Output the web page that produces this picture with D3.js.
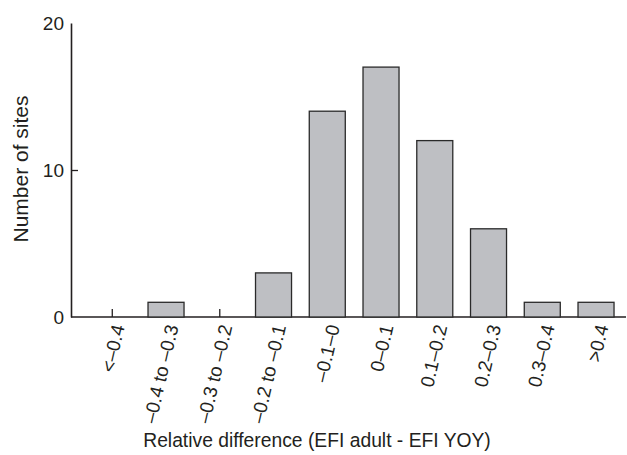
<!DOCTYPE html>
<html>
<head>
<meta charset="utf-8">
<script src="https://cdn.jsdelivr.net/npm/d3@7"></script>
<style>
  html, body { margin: 0; padding: 0; background: #fff; }
  svg { display: block; }
  text { font-family: "Liberation Sans", Arial, sans-serif; fill: #231f20; }
</style>
</head>
<body>
<svg id="chart" width="627" height="455"></svg>
<script>
// Histogram bins and counts of sites
const categories = ["<–0.4", "–0.4 to –0.3", "–0.3 to –0.2", "–0.2 to –0.1", "–0.1–0",
                    "0–0.1", "0.1–0.2", "0.2–0.3", "0.3–0.4", ">0.4"];
const counts = [0, 1, 0, 3, 14, 17, 12, 6, 1, 1];
const yTicks = [0, 10, 20];
const xTitle = "Relative difference (EFI adult - EFI YOY)";
const yTitle = "Number of sites";

const svg = d3.select("#chart");
const ink = "#231f20";

const axisLeft = 71, axisRight = 626, yBottom = 317, yTop = 23;

const x = d3.scaleBand()
  .domain(categories)
  .range([85.4, 622.9])
  .paddingInner(0.33)
  .paddingOuter(0.165);

const y = d3.scaleLinear().domain([0, 20]).range([yBottom, yTop]);

// x-axis line with small inward ticks at bin centres
svg.append("line")
  .attr("x1", axisLeft).attr("x2", axisRight)
  .attr("y1", yBottom).attr("y2", yBottom)
  .attr("stroke", ink).attr("stroke-width", 1.6);

svg.append("g").selectAll("line")
  .data(categories)
  .join("line")
  .attr("x1", d => x(d) + x.bandwidth() / 2)
  .attr("x2", d => x(d) + x.bandwidth() / 2)
  .attr("y1", yBottom).attr("y2", yBottom - 8)
  .attr("stroke", ink).attr("stroke-width", 1.3);

// bars
svg.append("g").selectAll("rect")
  .data(categories.map((c, i) => ({ c, v: counts[i] })).filter(d => d.v > 0))
  .join("rect")
  .attr("x", d => x(d.c))
  .attr("width", x.bandwidth())
  .attr("y", d => y(d.v))
  .attr("height", d => y(0) - y(d.v))
  .attr("fill", "#bebfc3")
  .attr("stroke", "#2a2a2a")
  .attr("stroke-width", 1.3);

// y axis
const yAxis = d3.axisLeft(y)
  .tickValues(yTicks)
  .tickSizeInner(-7)
  .tickSizeOuter(0)
  .tickPadding(7);

const gy = svg.append("g")
  .attr("transform", `translate(${axisLeft},0)`)
  .call(yAxis);
gy.select(".domain").attr("stroke", ink).attr("stroke-width", 1.6);
gy.selectAll(".tick line").attr("stroke", ink).attr("stroke-width", 1.3)
  .filter(d => d !== 10).remove();
gy.selectAll(".tick text")
  .attr("font-size", 19)
  .attr("font-family", "Liberation Sans, Arial, sans-serif")
  .attr("fill", ink);

// rotated bin labels
svg.append("g").selectAll("text")
  .data(categories)
  .join("text")
  .attr("transform", d => `translate(${x(d) + x.bandwidth() / 2 + 6},${yBottom + 8}) rotate(-77)`)
  .attr("text-anchor", "end")
  .attr("dy", "0.35em")
  .attr("font-size", 19)
  .text(d => d);

// axis titles
svg.append("text")
  .attr("x", 317).attr("y", 447)
  .attr("text-anchor", "middle")
  .attr("font-size", 19.3)
  .text(xTitle);

svg.append("text")
  .attr("transform", `translate(28,169) rotate(-90)`)
  .attr("text-anchor", "middle")
  .attr("font-size", 21)
  .text(yTitle);
</script>
</body>
</html>
